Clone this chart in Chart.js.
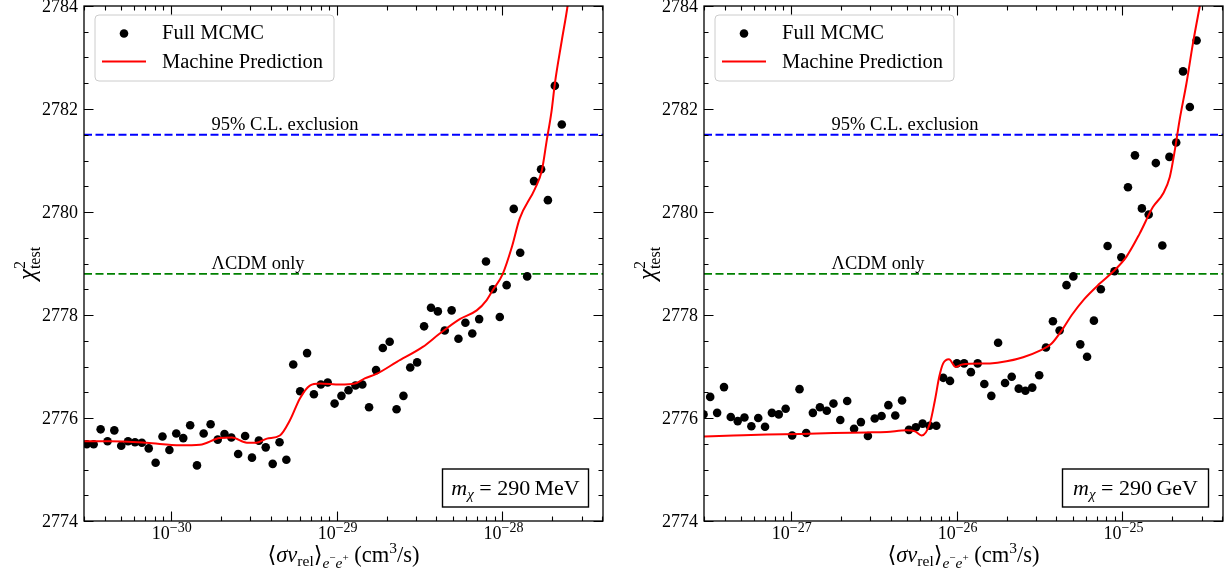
<!DOCTYPE html>
<html><head><meta charset="utf-8">
<script src="https://cdn.jsdelivr.net/npm/chart.js@4.4.1/dist/chart.umd.min.js"></script>
<style>
html,body{margin:0;padding:0;background:#fff;}
#wrap{position:relative;width:1230px;height:580px;background:#fff;}
canvas{position:absolute;top:0;}
</style></head><body>
<div id="wrap"><canvas id="c1" width="610" height="580" style="left:0"></canvas><canvas id="c2" width="610" height="580" style="left:620px"></canvas></div>
<script>
// ---------- data ----------
const YMIN = 2774, YMAX = 2784;
const Y_TICKS = [2774, 2776, 2778, 2780, 2782, 2784];
const CL95 = 2781.5;
const LCDM = 2778.8;

// left panel (m = 290 MeV)
const L_XMIN = 3.0e-31, L_XMAX = 4.04e-28;
const L_X_TICKS = [1e-30, 1e-29, 1e-28];
const L_X_TICK_EXP = ['\u221230', '\u221229', '\u221228'];
const L_X = [3.12e-31,3.43e-31,3.78e-31,4.16e-31,4.57e-31,5.03e-31,5.53e-31,6.09e-31,6.70e-31,7.37e-31,8.11e-31,8.92e-31,9.82e-31,
 1.08e-30,1.19e-30,1.31e-30,1.44e-30,1.58e-30,1.74e-30,1.92e-30,2.11e-30,2.32e-30,2.55e-30,2.81e-30,3.09e-30,3.40e-30,3.74e-30,4.12e-30,4.53e-30,4.98e-30,5.48e-30,6.03e-30,6.64e-30,7.30e-30,8.04e-30,8.84e-30,9.73e-30,
 1.07e-29,1.18e-29,1.30e-29,1.43e-29,1.57e-29,1.73e-29,1.90e-29,2.09e-29,2.30e-29,2.53e-29,2.78e-29,3.06e-29,3.37e-29,3.71e-29,4.08e-29,4.49e-29,4.94e-29,5.43e-29,5.98e-29,6.58e-29,7.24e-29,7.96e-29,8.76e-29,9.64e-29,
 1.06e-28,1.17e-28,1.28e-28,1.41e-28,1.55e-28,1.71e-28,1.88e-28,2.07e-28,2.28e-28];
const L_Y = [2775.49,2775.49,2775.78,2775.55,2775.76,2775.46,2775.55,2775.53,2775.52,2775.41,
 2775.13,2775.64,2775.38,2775.70,2775.61,2775.86,2775.08,2775.70,2775.88,2775.58,
 2775.69,2775.62,2775.30,2775.65,2775.23,2775.56,2775.43,2775.11,2775.53,2775.19,
 2777.04,2776.52,2777.26,2776.46,2776.65,2776.69,2776.28,2776.43,2776.54,2776.63,
 2776.65,2776.21,2776.93,2777.36,2777.48,2776.17,2776.43,2776.98,2777.08,2777.78,
 2778.14,2778.07,2777.70,2778.09,2777.54,2777.85,2777.64,2777.92,2779.04,2778.50,
 2777.96,2778.58,2780.06,2779.21,2778.75,2780.60,2780.83,2780.23,2782.45,2781.70];
const L_CURVE_X = [2.9e-31,4.30e-31,7.16e-31,1.14e-30,1.50e-30,1.98e-30,2.34e-30,2.88e-30,3.27e-30,3.80e-30,4.55e-30,5.24e-30,6.01e-30,6.90e-30,7.93e-30,
 1.05e-29,1.29e-29,1.48e-29,1.75e-29,2.31e-29,3.31e-29,4.19e-29,5.53e-29,7.00e-29,8.04e-29,8.74e-29,
 1.005e-28,1.14e-28,1.27e-28,1.57e-28,1.73e-28,1.85e-28,1.98e-28,2.07e-28,2.28e-28,2.47e-28,2.61e-28];
const L_CURVE_Y = [2775.55,2775.55,2775.52,2775.47,2775.48,2775.61,2775.62,2775.52,2775.52,2775.60,2775.66,2775.96,2776.38,2776.63,2776.67,
 2776.65,2776.67,2776.77,2776.86,2777.09,2777.38,2777.64,2777.92,2778.09,2778.29,2778.48,
 2778.80,2779.32,2779.87,2780.45,2780.81,2781.39,2781.97,2782.49,2783.33,2784.0,2784.6];

// right panel (m = 290 GeV)
const R_XMIN = 3.0e-28, R_XMAX = 4.04e-25;
const R_X_TICKS = [1e-27, 1e-26, 1e-25];
const R_X_TICK_EXP = ['\u221227', '\u221226', '\u221225'];
const R_X = [2.98e-28,3.27e-28,3.60e-28,3.96e-28,4.35e-28,4.79e-28,5.26e-28,5.79e-28,6.37e-28,7.00e-28,7.70e-28,8.47e-28,9.32e-28,
 1.02e-27,1.13e-27,1.24e-27,1.36e-27,1.50e-27,1.65e-27,1.81e-27,1.99e-27,2.19e-27,2.41e-27,2.65e-27,2.92e-27,3.21e-27,3.53e-27,3.88e-27,4.27e-27,4.69e-27,5.16e-27,5.68e-27,6.24e-27,6.87e-27,7.55e-27,8.31e-27,9.13e-27,
 1.005e-26,1.11e-26,1.22e-26,1.34e-26,1.47e-26,1.62e-26,1.78e-26,1.96e-26,2.15e-26,2.37e-26,2.60e-26,2.86e-26,3.15e-26,3.46e-26,3.81e-26,4.18e-26,4.60e-26,5.06e-26,5.57e-26,6.12e-26,6.73e-26,7.41e-26,8.14e-26,8.96e-26,9.85e-26,
 1.08e-25,1.19e-25,1.31e-25,1.44e-25,1.59e-25,1.74e-25,1.92e-25,2.11e-25,2.32e-25,2.55e-25,2.80e-25];
const R_Y = [2776.07,2776.41,2776.10,2776.60,2776.02,2775.94,2776.01,2775.84,2776.00,2775.83,
 2776.10,2776.07,2776.18,2775.66,2776.56,2775.71,2776.10,2776.21,2776.14,2776.28,
 2775.96,2776.33,2775.79,2775.92,2775.65,2775.99,2776.04,2776.25,2776.05,2776.34,
 2775.77,2775.82,2775.89,2775.85,2775.85,2776.78,2776.72,2777.06,2777.06,2776.89,
 2777.06,2776.66,2776.43,2777.46,2776.68,2776.80,2776.57,2776.53,2776.59,2776.83,
 2777.37,2777.88,2777.70,2778.58,2778.75,2777.43,2777.19,2777.89,2778.50,2779.34,
 2778.85,2779.12,2780.48,2781.10,2780.07,2779.95,2780.95,2779.35,2781.07,2781.35,
 2782.73,2782.04,2783.33];
const R_CURVE_X = [2.9e-28,4.51e-28,7.17e-28,1.14e-27,1.81e-27,2.87e-27,3.79e-27,5.00e-27,5.61e-27,6.15e-27,6.90e-27,7.40e-27,7.86e-27,8.30e-27,8.99e-27,9.91e-27,
 1.08e-26,1.59e-26,2.00e-26,2.52e-26,3.18e-26,3.73e-26,4.39e-26,4.95e-26,5.85e-26,7.30e-26,8.77e-26,
 1.056e-25,1.27e-25,1.53e-25,1.76e-25,1.93e-25,2.07e-25,2.21e-25,2.43e-25,2.66e-25,2.92e-25,3.09e-25];
const R_CURVE_Y = [2775.64,2775.66,2775.68,2775.69,2775.71,2775.72,2775.73,2775.76,2775.74,2775.66,2775.89,2776.34,2776.80,2777.06,2777.14,2776.99,
 2777.04,2777.06,2777.10,2777.18,2777.31,2777.44,2777.74,2778.00,2778.30,2778.61,2778.84,
 2779.13,2779.58,2780.10,2780.36,2780.68,2781.20,2781.78,2782.49,2783.27,2783.98,2784.4];

const LABEL_MCMC = 'Full MCMC';
const LABEL_ML = 'Machine Prediction';
const TXT_CL = '95% C.L. exclusion';
const TXT_LCDM = '\u039BCDM only';

// ---------- drawing helpers ----------
const FONT = '"Liberation Serif","DejaVu Serif",serif';
function fnt(sz, it) { return (it ? 'italic ' : '') + sz + 'px ' + FONT; }
function rich(ctx, segs, x, y, align) {
  let w = 0;
  const ws = segs.map(s => { ctx.font = fnt(s.s, s.it); const m = ctx.measureText(s.t).width; if (!s.na) w += m; return m; });
  let cx = align === 'center' ? x - w / 2 : (align === 'right' ? x - w : x);
  ctx.textAlign = 'left'; ctx.textBaseline = 'alphabetic';
  segs.forEach((s, i) => { ctx.font = fnt(s.s, s.it); ctx.fillText(s.t, cx, y + (s.dy || 0)); if (!s.na) cx += ws[i]; });
  return w;
}

function decor(opt) {
  return {
    id: 'decor',
    afterDraw(chart) {
      const ctx = chart.ctx, ca = chart.chartArea, xs = chart.scales.x, ys = chart.scales.y;
      ctx.save();
      ctx.fillStyle = '#000'; ctx.strokeStyle = '#000';
      // reference line captions
      ctx.font = fnt(18.5); ctx.textAlign = 'center'; ctx.textBaseline = 'alphabetic';
      ctx.fillText(TXT_CL, ca.left + 201, ys.getPixelForValue(CL95) - 4.5);
      ctx.fillText(TXT_LCDM, ca.left + 174, ys.getPixelForValue(LCDM) - 4.5);
      // frame
      ctx.lineWidth = 1.3;
      ctx.strokeRect(ca.left, ca.top, ca.right - ca.left, ca.bottom - ca.top);
      // y ticks
      ctx.lineWidth = 1.1;
      for (let v = YMIN; v <= YMAX + 1e-9; v += 0.5) {
        const p = Math.round(ys.getPixelForValue(v)) + 0.5;
        const len = (Math.abs(v % 2) < 1e-9) ? 9.5 : 4.5;
        ctx.beginPath();
        ctx.moveTo(ca.left, p); ctx.lineTo(ca.left + len, p);
        ctx.moveTo(ca.right, p); ctx.lineTo(ca.right - len, p);
        ctx.stroke();
      }
      ctx.font = fnt(18); ctx.textAlign = 'right'; ctx.textBaseline = 'middle';
      Y_TICKS.forEach(v => ctx.fillText(String(v), ca.left - 6, ys.getPixelForValue(v) + 1));
      // x ticks
      const d0 = Math.floor(Math.log10(opt.xmin)), d1 = Math.ceil(Math.log10(opt.xmax));
      for (let d = d0; d <= d1; d++) {
        for (let m = 1; m <= 9; m++) {
          const v = m * Math.pow(10, d);
          if (v < opt.xmin || v > opt.xmax) continue;
          const p = Math.round(xs.getPixelForValue(v)) + 0.5;
          const len = m === 1 ? 9.5 : 4.5;
          ctx.beginPath();
          ctx.moveTo(p, ca.bottom); ctx.lineTo(p, ca.bottom - len);
          ctx.moveTo(p, ca.top); ctx.lineTo(p, ca.top + len);
          ctx.stroke();
        }
      }
      opt.xticks.forEach((v, i) => {
        rich(ctx, [{ t: '10', s: 18 }, { t: opt.xexp[i], s: 14, dy: -7.5 }], xs.getPixelForValue(v) + 1, ca.bottom + 18, 'center');
      });
      // x title
      const b = 22.5, sb = 15.5;
      rich(ctx, [
        { t: '\u27E8', s: b }, { t: '\u03C3', s: b, it: true }, { t: 'v', s: b, it: true },
        { t: 'rel', s: sb, dy: 4 }, { t: '\u27E9', s: b },
        { t: 'e', s: sb, it: true, dy: 6 }, { t: '\u2212', s: 11, dy: -1 }, { t: 'e', s: sb, it: true, dy: 6 }, { t: '+', s: 11, dy: -1 },
        { t: ' (cm', s: b }, { t: '3', s: sb, dy: -9 }, { t: '/s)', s: b }
      ], (ca.left + ca.right) / 2, ca.bottom + 41, 'center');
      // y title
      ctx.save();
      ctx.translate(ca.left - 56, (ca.top + ca.bottom) / 2);
      ctx.rotate(-Math.PI / 2);
      rich(ctx, [{ t: '\u03C7', s: 25, it: true }, { t: '2', s: 16, dy: -10, na: true }, { t: 'test', s: 16, dy: 5 }], 0, 7, 'center');
      ctx.restore();
      // legend
      const lx = ca.left + 11, ly = ca.top + 9, lw = 239, lh = 66;
      ctx.beginPath();
      ctx.roundRect(lx, ly, lw, lh, 4);
      ctx.fillStyle = 'rgba(255,255,255,0.8)'; ctx.fill();
      ctx.strokeStyle = '#cccccc'; ctx.lineWidth = 1; ctx.stroke();
      ctx.fillStyle = '#000';
      ctx.beginPath(); ctx.arc(ca.left + 40, ca.top + 27.5, 4.3, 0, Math.PI * 2); ctx.fill();
      ctx.strokeStyle = '#ff0000'; ctx.lineWidth = 2;
      ctx.beginPath(); ctx.moveTo(ca.left + 18, ca.top + 55.5); ctx.lineTo(ca.left + 62, ca.top + 55.5); ctx.stroke();
      ctx.fillStyle = '#000'; ctx.font = fnt(20.5); ctx.textAlign = 'left'; ctx.textBaseline = 'middle';
      ctx.fillText(LABEL_MCMC, ca.left + 78, ca.top + 28);
      ctx.fillText(LABEL_ML, ca.left + 78, ca.top + 57);
      // mass box
      const bx = ca.right - 160.5, by = ca.bottom - 52, bw = 146, bh = 38;
      ctx.fillStyle = '#fff'; ctx.fillRect(bx, by, bw, bh);
      ctx.strokeStyle = '#000'; ctx.lineWidth = 1.4; ctx.strokeRect(bx, by, bw, bh);
      ctx.fillStyle = '#000';
      rich(ctx, [{ t: 'm', s: 22, it: true }, { t: '\u03C7', s: 15, it: true, dy: 4 }, { t: ' = 290\u2009' + opt.unit, s: 22 }], bx + bw / 2, by + 26, 'center');
      ctx.restore();
    }
  };
}

function build(id, o) {
  new Chart(document.getElementById(id), {
    type: 'scatter',
    data: {
      datasets: [
        { label: LABEL_ML, type: 'line', data: o.cx.map((x, i) => ({ x, y: o.cy[i] })), borderColor: '#ff0000', borderWidth: 2, pointRadius: 0, fill: false, cubicInterpolationMode: 'monotone', order: 0 },
        { label: LABEL_MCMC, data: o.px.map((x, i) => ({ x, y: o.py[i] })), backgroundColor: '#000', borderColor: '#000', pointRadius: 4.3, pointBorderWidth: 0, order: 1 },
        { label: TXT_CL, type: 'line', data: [{ x: o.xmin, y: CL95 }, { x: o.xmax, y: CL95 }], borderColor: '#0000ff', borderDash: [8, 3.5], borderWidth: 1.8, pointRadius: 0, fill: false, order: 2 },
        { label: TXT_LCDM, type: 'line', data: [{ x: o.xmin, y: LCDM }, { x: o.xmax, y: LCDM }], borderColor: '#008000', borderDash: [8, 3.5], borderWidth: 1.8, pointRadius: 0, fill: false, order: 2 }
      ]
    },
    options: {
      responsive: false, animation: false, devicePixelRatio: 1,
      layout: { padding: { left: 0, right: 7, top: 6, bottom: 0 } },
      plugins: { legend: { display: false }, tooltip: { enabled: false } },
      scales: {
        x: { type: 'logarithmic', min: o.xmin, max: o.xmax, ticks: { display: false }, grid: { display: false }, border: { display: false }, afterFit(s) { s.height = 59; } },
        y: { type: 'linear', min: YMIN, max: YMAX, ticks: { display: false }, grid: { display: false }, border: { display: false }, afterFit(s) { s.width = 84; } }
      }
    },
    plugins: [decor(o)]
  });
}

build('c1', { px: L_X, py: L_Y, cx: L_CURVE_X, cy: L_CURVE_Y, xmin: L_XMIN, xmax: L_XMAX, xticks: L_X_TICKS, xexp: L_X_TICK_EXP, unit: 'MeV' });
build('c2', { px: R_X, py: R_Y, cx: R_CURVE_X, cy: R_CURVE_Y, xmin: R_XMIN, xmax: R_XMAX, xticks: R_X_TICKS, xexp: R_X_TICK_EXP, unit: 'GeV' });
</script>
</body></html>
